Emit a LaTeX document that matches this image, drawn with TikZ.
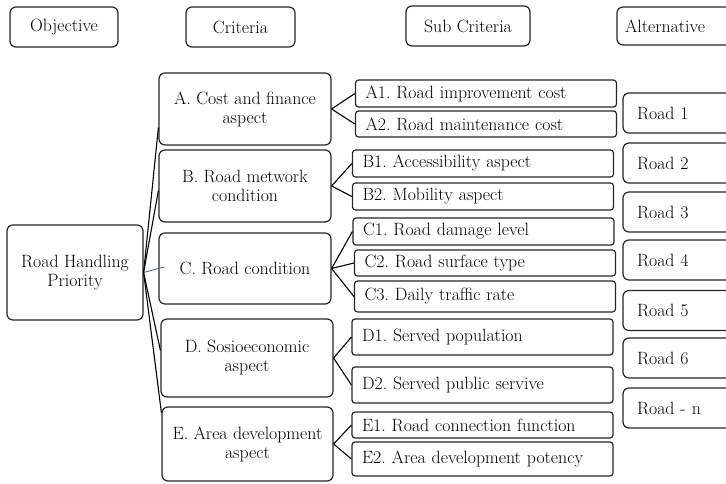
\documentclass[tikz,border=0pt]{standalone}
\usepackage{tikz}
\frenchspacing

\definecolor{steel}{RGB}{75,105,150}

\tikzset{
  box/.style={draw=black!85, line width=1.2pt, rounded corners=6pt, align=center,
    inner sep=0pt, font=\fontsize{17.8}{19}\selectfont},
  subbox/.style={box, rounded corners=3pt, align=left, text width=241pt,
    inner xsep=10pt, minimum height=#1},
  altbox/.style={box, align=left, text width=102pt, inner xsep=14pt, minimum height=40pt},
  link/.style={line width=1.1pt, black}
}

\begin{document}
\begin{tikzpicture}[x=1pt, y=-1pt]

\useasboundingbox (0,0) rectangle (726,483);
\clip (0,0) rectangle (726,483);

%Headers
\node[box, minimum width=108pt, minimum height=40pt] (hobj) at (64,27) {Objective};
\node[box, minimum width=109pt, minimum height=40pt] (hcrit) at (240.5,27) {Criteria};
\node[box, minimum width=124pt, minimum height=40pt] (hsub) at (468,26) {Sub Criteria};
\node[box, align=left, text width=120pt, inner xsep=8pt, minimum height=38pt] (halt) at (685,26) {Alternative};

%Objective
\node[box, minimum width=136pt, minimum height=95pt] (obj) at (75,272.5) {Road Handling\\Priority};

%Criteria
\node[box, minimum width=172pt, minimum height=72pt] (A) at (245,109) {A. Cost and finance\\aspect};
\node[box, minimum width=172pt, minimum height=72pt] (B) at (245,186) {B. Road metwork\\condition};
\node[box, minimum width=172pt, minimum height=71pt] (C) at (245,268.5) {C. Road condition};
\node[box, minimum width=172pt, minimum height=78pt] (D) at (247,358) {D. Sosioeconomic\\aspect};
\node[box, minimum width=171pt, minimum height=74pt] (E) at (247.5,444) {E. Area development\\aspect};

%Sub criteria
\node[subbox=27pt] (A1) at (486,93.5) {A1. Road improvement cost};
\node[subbox=26pt] (A2) at (486,124) {A2. Road maintenance cost};
\node[subbox=27pt] (B1) at (483,163.5) {B1. Accessibility aspect};
\node[subbox=27pt] (B2) at (483,196.5) {B2. Mobility aspect};
\node[subbox=27pt] (C1) at (483.5,231.5) {C1. Road damage level};
\node[subbox=26pt] (C2) at (485,263) {C2. Road surface type};
\node[subbox=31pt] (C3) at (485,296.5) {C3. Daily traffic rate};
\node[subbox=36pt] (D1) at (482.5,337) {D1. Served population};
\node[subbox=36pt] (D2) at (482.5,385) {D2. Served public servive};
\node[subbox=26pt] (E1) at (482.5,425) {E1. Road connection function};
\node[subbox=34pt] (E2) at (482.5,459) {E2. Area development potency};

%Alternatives
\node[altbox] (R1) at (688,113) {Road 1};
\node[altbox] (R2) at (688,163) {Road 2};
\node[altbox] (R3) at (688,212) {Road 3};
\node[altbox] (R4) at (688,260) {Road 4};
\node[altbox] (R5) at (688,310.5) {Road 5};
\node[altbox] (R6) at (688,358) {Road 6};
\node[altbox] (Rn) at (688,408) {Road - n};

%Links
\draw[link] (obj.east) -- (A.192);
\draw[link] (obj.east) -- (B.183);
\draw[line width=0.9pt, steel, shorten >=-6pt] (obj.east) -- (C.west);
\draw[link] (obj.east) -- (D.175);
\draw[link] (obj.east) -- (E.160);

\draw[link] (A.east) -- (A1.west);
\draw[link] (A.east) -- (A2.west);
\draw[link] (B.east) -- (B1.west);
\draw[link] (B.east) -- (B2.west);
\draw[link] (C.east) -- (C1.west);
\draw[link] (C.east) -- (C2.west);
\draw[link] (C.east) -- (C3.west);
\draw[link] (D.east) -- (D1.west);
\draw[link] (D.east) -- (D2.west);
\draw[link] (E.east) -- (E1.west);
\draw[link] (E.east) -- (E2.west);

\end{tikzpicture}
\end{document}
